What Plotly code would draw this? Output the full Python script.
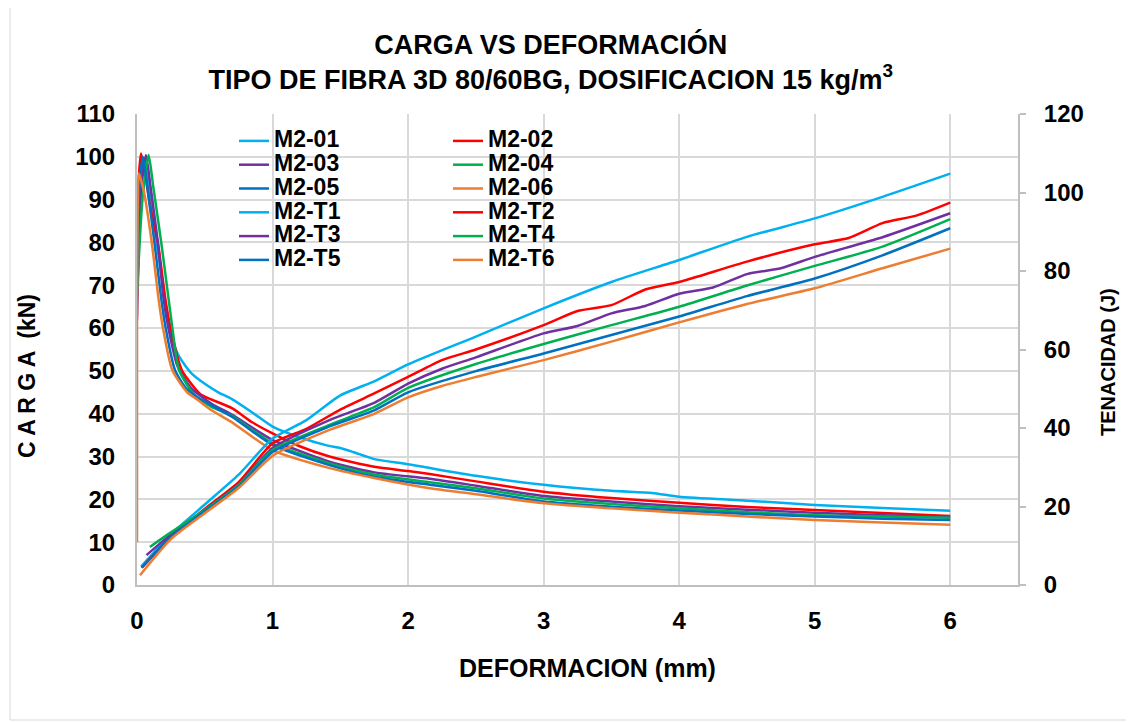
import plotly.graph_objects as go

# ---------------- DATA ----------------
# Load curves (kN, left axis)
x_m01 = [0.0, 0.02, 0.05, 0.1, 0.15, 0.2, 0.25, 0.3, 0.35, 0.4, 0.5, 0.6, 0.7, 0.85, 1.0, 1.2, 1.4, 1.5, 1.6, 1.75, 2.0, 2.5, 3.0, 3.5, 3.8, 4.0, 4.5, 5.0, 5.5, 6.0]
y_m01 = [70, 92, 99.7, 91, 79, 68, 59, 54.0, 51.5, 49.5, 47.0, 45.0, 43.4, 40.3, 37.0, 34.5, 32.6, 32.0, 31.0, 29.4, 28.2, 25.5, 23.4, 22.0, 21.5, 20.6, 19.7, 18.7, 18.0, 17.35]

x_m02 = [0.0, 0.015, 0.03, 0.06, 0.1, 0.155, 0.21, 0.245, 0.33, 0.4, 0.47, 0.7, 0.85, 1.0, 1.2, 1.42, 1.75, 2.0, 2.16, 2.5, 3.0, 3.5, 4.0, 4.5, 5.0, 5.5, 6.0]
y_m02 = [72, 96, 100.8, 96, 88, 79.7, 66.6, 60.3, 50.2, 47.0, 44.5, 41.3, 38.0, 35.4, 32.4, 30.0, 27.6, 26.6, 25.9, 24.2, 21.8, 20.3, 19.2, 18.2, 17.5, 16.8, 16.1]

x_m03 = [0.0, 0.03, 0.066, 0.1, 0.155, 0.197, 0.23, 0.3, 0.4, 0.55, 0.7, 1.0, 1.42, 1.75, 2.16, 2.5, 3.0, 3.5, 4.0, 4.5, 5.0, 5.5, 6.0]
y_m03 = [62, 92, 100.4, 93, 79.7, 66.6, 60.3, 51.0, 46.0, 42.3, 39.8, 33.9, 28.8, 26.3, 24.8, 23.2, 20.8, 19.5, 18.4, 17.6, 16.9, 16.3, 15.9]

x_m04 = [0.0, 0.04, 0.086, 0.12, 0.18, 0.234, 0.26, 0.31, 0.42, 0.55, 0.7, 1.0, 1.42, 1.75, 2.16, 2.5, 3.0, 3.5, 4.0, 4.5, 5.0, 5.5, 6.0]
y_m04 = [68, 90, 100.4, 93, 79.7, 66.6, 60.3, 50.2, 44.5, 41.6, 39.5, 33.1, 28.4, 25.8, 24.0, 22.6, 20.2, 18.9, 17.9, 17.0, 16.3, 16.0, 15.7]

x_m05 = [0.0, 0.02, 0.044, 0.08, 0.13, 0.18, 0.21, 0.28, 0.36, 0.45, 0.7, 1.0, 1.42, 1.75, 2.16, 2.5, 3.0, 3.5, 4.0, 4.5, 5.0, 5.5, 6.0]
y_m05 = [70, 94, 100.0, 92, 79.7, 66.6, 60.3, 50.2, 46.0, 43.8, 39.3, 32.7, 28.0, 25.3, 23.4, 22.0, 19.5, 18.3, 17.4, 16.6, 16.0, 15.5, 15.2]

x_m06 = [0.0, 0.0, 0.005, 0.013, 0.05, 0.11, 0.16, 0.19, 0.26, 0.37, 0.45, 0.55, 0.69, 1.0, 1.42, 1.75, 2.16, 2.5, 3.0, 3.5, 4.0, 4.5, 5.0, 5.5, 6.0]
y_m06 = [10, 60, 88, 96.1, 92, 79.7, 66.6, 60.3, 50.2, 45.0, 43.2, 40.8, 38.2, 31.5, 27.3, 25.0, 22.6, 21.2, 19.1, 17.9, 16.9, 16.0, 15.2, 14.6, 14.1]

# Toughness curves (J, right axis)
x_t1 = [0.03, 0.25, 0.5, 0.75, 1.0, 1.25, 1.5, 1.75, 2.0, 2.5, 3.0, 3.5, 4.0, 4.5, 5.0, 5.5, 6.0]
y_t1 = [4.7, 12.9, 20.5, 28.1, 37.3, 42.0, 48.3, 51.9, 56.2, 63.3, 70.5, 77.2, 82.8, 88.7, 93.4, 98.9, 104.8]

x_t2 = [0.035, 0.25, 0.5, 0.75, 1.0, 1.25, 1.5, 1.75, 2.0, 2.25, 2.5, 3.0, 3.25, 3.5, 3.75, 4.0, 4.5, 5.0, 5.25, 5.5, 5.75, 6.0]
y_t2 = [4.4, 12.3, 19.4, 26.2, 36.1, 39.8, 44.7, 48.8, 53.0, 57.3, 60.0, 66.2, 69.8, 71.3, 75.3, 77.2, 82.4, 86.8, 88.4, 92.2, 94.1, 97.4]

x_t3 = [0.07, 0.25, 0.5, 0.75, 1.0, 1.42, 1.75, 2.0, 2.25, 2.5, 3.0, 3.25, 3.5, 3.75, 4.0, 4.25, 4.5, 4.75, 5.0, 5.5, 6.0]
y_t3 = [7.6, 12.9, 19.1, 25.6, 34.9, 42.0, 46.4, 51.3, 55.1, 58.0, 64.1, 66.0, 69.2, 71.1, 74.2, 75.8, 79.2, 80.7, 83.6, 88.6, 94.7]

x_t4 = [0.095, 0.25, 0.5, 0.75, 1.0, 1.42, 1.75, 2.0, 2.5, 3.0, 3.5, 4.0, 4.5, 5.0, 5.5, 6.0]
y_t4 = [9.7, 13.4, 19.1, 25.5, 34.4, 40.8, 45.3, 50.2, 56.3, 61.4, 66.2, 70.9, 76.3, 81.3, 86.2, 93.2]

x_t5 = [0.035, 0.25, 0.5, 0.75, 1.0, 1.42, 1.75, 2.0, 2.5, 3.0, 3.5, 4.0, 4.5, 5.0, 5.5, 6.0]
y_t5 = [4.4, 12.2, 18.8, 25.1, 33.9, 40.4, 44.5, 49.1, 54.5, 59.0, 63.7, 68.4, 73.6, 78.1, 84.0, 90.9]

x_t6 = [0.022, 0.25, 0.5, 0.75, 1.0, 1.42, 1.75, 2.0, 2.25, 2.5, 3.0, 3.5, 4.0, 4.5, 5.0, 5.5, 6.0]
y_t6 = [2.5, 11.7, 18.3, 24.7, 32.9, 39.5, 43.6, 47.8, 50.7, 53.0, 57.3, 62.0, 66.9, 71.6, 75.6, 80.7, 85.7]

x_ticks = [0, 1, 2, 3, 4, 5, 6]
y_left_ticks = [0, 10, 20, 30, 40, 50, 60, 70, 80, 90, 100, 110]
y_right_ticks = [0, 20, 40, 60, 80, 100, 120]

# ---------------- STYLE ----------------
CYAN, RED, PURPLE, GREEN, BLUE, ORANGE = "#00B0F0", "#FF0000", "#7030A0", "#00B050", "#0070C0", "#ED7D31"
FONT = "Arial, Liberation Sans, sans-serif"
LW = 2.5

series = [
    ("M2-01", x_m01, y_m01, CYAN, "y", "legend"),
    ("M2-02", x_m02, y_m02, RED, "y", "legend2"),
    ("M2-03", x_m03, y_m03, PURPLE, "y", "legend"),
    ("M2-04", x_m04, y_m04, GREEN, "y", "legend2"),
    ("M2-05", x_m05, y_m05, BLUE, "y", "legend"),
    ("M2-06", x_m06, y_m06, ORANGE, "y", "legend2"),
    ("M2-T1", x_t1, y_t1, CYAN, "y2", "legend"),
    ("M2-T2", x_t2, y_t2, RED, "y2", "legend2"),
    ("M2-T3", x_t3, y_t3, PURPLE, "y2", "legend"),
    ("M2-T4", x_t4, y_t4, GREEN, "y2", "legend2"),
    ("M2-T5", x_t5, y_t5, BLUE, "y2", "legend"),
    ("M2-T6", x_t6, y_t6, ORANGE, "y2", "legend2"),
]

fig = go.Figure()
for name, xs, ys, col, yax, leg in series:
    fig.add_trace(go.Scatter(
        x=xs, y=ys, name='<span style="font-size:23px">' + name + '</span>',
        mode="lines", yaxis=yax, legend=leg,
        line=dict(color=col, width=LW, shape="spline", smoothing=0.6),
    ))

legend_common = dict(
    bgcolor="rgba(0,0,0,0)", borderwidth=0,
    font=dict(family=FONT, size=16, color="black", weight="bold"),
    xanchor="left", yanchor="top", tracegroupgap=0, itemwidth=30,
)

# page body has an 8px margin, so the figure is sized/offset to compensate
W, H = 1126, 714
L, T, R, B = 129, 106, 116, 137
PW, PH = W - L - R, H - T - B

def px_x(sx):  # screen px -> paper x
    return (sx - 8 - L) / PW

def px_y(sy):  # screen px -> paper y
    return (T + PH - (sy - 8)) / PH

title_font = dict(family=FONT, color="black", weight="bold")

fig.update_layout(
    width=W, height=H,
    paper_bgcolor="white", plot_bgcolor="white",
    margin=dict(l=L, r=R, t=T, b=B),
    title=dict(
        text="CARGA VS DEFORMACIÓN<br>TIPO DE FIBRA 3D 80/60BG, DOSIFICACION 15 kg/m<sup>3</sup>",
        x=0.482, xanchor="center", y=0.936, yanchor="top",
        font=dict(family=FONT, size=27, color="black", weight="bold"),
    ),
    xaxis=dict(
        range=[0, 6.5], tickvals=x_ticks, showgrid=True, gridcolor="#D9D9D9", gridwidth=2,
        showline=True, linecolor="#BFBFBF", linewidth=2, zeroline=False, ticks="",
        tickfont=dict(family=FONT, size=24, color="black", weight="bold"),
        ticklabelstandoff=13,
    ),
    yaxis=dict(
        range=[0, 110], tickvals=y_left_ticks, showgrid=True, gridcolor="#D9D9D9", gridwidth=2,
        showline=True, linecolor="#BFBFBF", linewidth=2, zeroline=False, ticks="",
        tickfont=dict(family=FONT, size=24, color="black", weight="bold"),
        ticklabelstandoff=15,
    ),
    yaxis2=dict(
        range=[0, 120], tickvals=y_right_ticks, overlaying="y", side="right",
        showgrid=False, showline=True, linecolor="#BFBFBF", linewidth=2, zeroline=False,
        ticks="outside", ticklen=6, tickcolor="#BFBFBF", tickwidth=2,
        tickfont=dict(family=FONT, size=24, color="black", weight="bold"),
        ticklabelstandoff=13,
    ),
    legend=dict(x=px_x(234), y=px_y(124), **legend_common),
    legend2=dict(x=px_x(448), y=px_y(124), **legend_common),
    annotations=[
        dict(text="DEFORMACION (mm)", xref="paper", yref="paper",
             x=px_x(587), y=px_y(668), xanchor="center", yanchor="middle",
             showarrow=False, font=dict(size=25, **title_font)),
        dict(text="C A R G A  (kN)", xref="paper", yref="paper", textangle=-90,
             x=px_x(27), y=px_y(376), xanchor="center", yanchor="middle",
             showarrow=False, font=dict(size=23, **title_font)),
        dict(text="TENACIDAD (J)", xref="paper", yref="paper", textangle=-90,
             x=px_x(1108), y=px_y(362), xanchor="center", yanchor="middle",
             showarrow=False, font=dict(size=20, **title_font)),
    ],
    shapes=[dict(type="rect", xref="paper", yref="paper",
                 x0=px_x(10), x1=px_x(1132),
                 y0=px_y(720), y1=px_y(7),
                 line=dict(color="#D9D9D9", width=1), layer="below")],
)

fig.write_html("out.html")
